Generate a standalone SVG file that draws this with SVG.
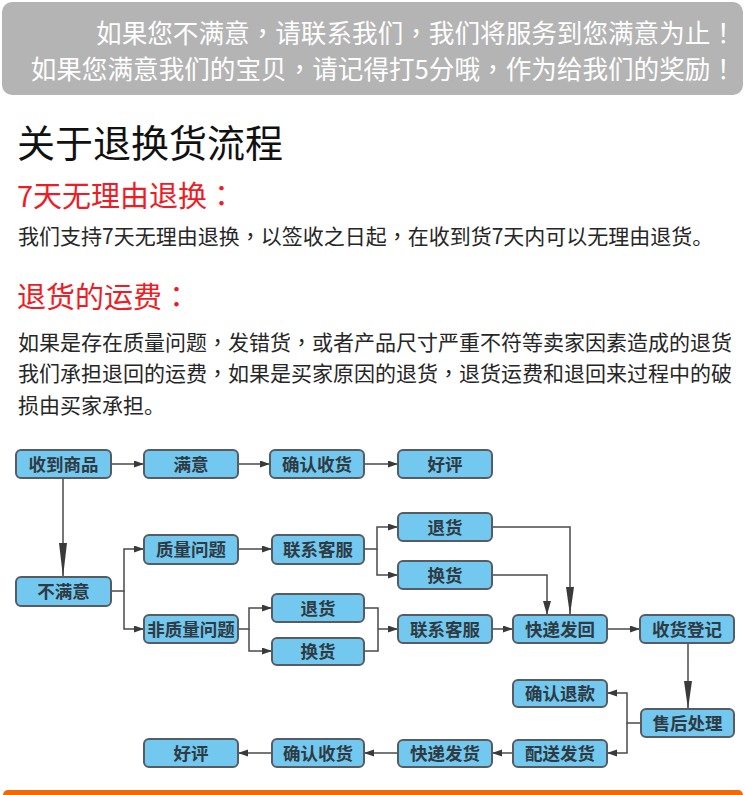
<svg xmlns="http://www.w3.org/2000/svg" width="746" height="795" viewBox="0 0 746 795">
<style>
.t{font-family:"Noto Sans CJK SC","Noto Sans",sans-serif;}
.p{font-family:"Noto Sans CJK TC","Noto Sans CJK SC",sans-serif;}
.ban{font-size:25.6px;fill:#ffffff;text-anchor:end;}
.title{font-size:38px;fill:#111111;}
.red{font-size:29px;fill:#ee1c25;}
.body{font-size:21px;fill:#262626;}
.box rect{fill:#72c8ef;stroke:#565c62;stroke-width:2;}
.box text{font-family:"Noto Sans CJK SC","Noto Sans",sans-serif;font-size:17.5px;font-weight:bold;fill:#2f3a42;text-anchor:middle;}
.con path{fill:none;stroke:#4a4a4a;stroke-width:1.5;}
</style>
<defs>
<marker id="a" markerUnits="userSpaceOnUse" markerWidth="10" markerHeight="8" refX="10" refY="3.5" orient="auto"><path d="M0,0 L10,3.5 L0,7 z" fill="#3a3a3a"/></marker>
<marker id="aL" markerUnits="userSpaceOnUse" markerWidth="34" markerHeight="9" refX="34" refY="4" orient="auto"><path d="M0,0 L34,4 L0,8 z" fill="#3a3a3a"/></marker>
<marker id="aM" markerUnits="userSpaceOnUse" markerWidth="28" markerHeight="9" refX="28" refY="4" orient="auto"><path d="M0,0 L28,4 L0,8 z" fill="#3a3a3a"/></marker>
<marker id="aS" markerUnits="userSpaceOnUse" markerWidth="14" markerHeight="9" refX="14" refY="4" orient="auto"><path d="M0,0 L14,4 L0,8 z" fill="#3a3a3a"/></marker>
</defs>
<rect x="0" y="0" width="746" height="795" fill="#ffffff"/>
<rect x="2" y="2" width="741" height="93" rx="10" fill="#b4b4b4"/>
<text class="t ban" x="736" y="43">如果您不满意<tspan class="p">，</tspan>请联系我们<tspan class="p">，</tspan>我们将服务到您满意为止<tspan class="p">！</tspan></text>
<text class="t ban" x="736" y="79">如果您满意我们的宝贝<tspan class="p">，</tspan>请记得打5分哦<tspan class="p">，</tspan>作为给我们的奖励<tspan class="p">！</tspan></text>
<text class="t title" x="17" y="157">关于退换货流程</text>
<text class="t red" x="17" y="207">7天无理由退换<tspan class="p">：</tspan></text>
<text class="t body" x="18" y="244">我们支持7天无理由退换<tspan class="p">，</tspan>以签收之日起<tspan class="p">，</tspan>在收到货7天内可以无理由退货。</text>
<text class="t red" x="17" y="308">退货的运费<tspan class="p">：</tspan></text>
<text class="t body" x="18" y="350">如果是存在质量问题<tspan class="p">，</tspan>发错货<tspan class="p">，</tspan>或者产品尺寸严重不符等卖家因素造成的退货</text>
<text class="t body" x="18" y="381">我们承担退回的运费<tspan class="p">，</tspan>如果是买家原因的退货<tspan class="p">，</tspan>退货运费和退回来过程中的破</text>
<text class="t body" x="18" y="413">损由买家承担。</text>
<g id="connectors" class="con">
<path d="M111,464 H144" marker-end="url(#a)"/>
<path d="M238,464 H270" marker-end="url(#a)"/>
<path d="M364,464 H398" marker-end="url(#a)"/>
<path d="M63,478 V577" marker-end="url(#aL)"/>
<path d="M111,591 H124 V549 H144" marker-end="url(#a)"/>
<path d="M124,591 V629 H144" marker-end="url(#a)"/>
<path d="M238,549 H272" marker-end="url(#a)"/>
<path d="M364,549 H377 V527 H398" marker-end="url(#a)"/>
<path d="M377,549 V575 H398" marker-end="url(#a)"/>
<path d="M492,527 H570 V615" marker-end="url(#aM)"/>
<path d="M492,575 H547 V615" marker-end="url(#aS)"/>
<path d="M238,629 H249 V608 H272" marker-end="url(#a)"/>
<path d="M249,629 V651 H272" marker-end="url(#a)"/>
<path d="M364,608 H378 V651 H364"/>
<path d="M378,629 H398" marker-end="url(#a)"/>
<path d="M492,629 H513" marker-end="url(#a)"/>
<path d="M607,629 H640" marker-end="url(#a)"/>
<path d="M688,643 V709" marker-end="url(#aM)"/>
<path d="M641,723 H627 V693 H607" marker-end="url(#a)"/>
<path d="M627,723 V753 H607" marker-end="url(#a)"/>
<path d="M513,753 H492" marker-end="url(#a)"/>
<path d="M398,753 H364" marker-end="url(#a)"/>
<path d="M272,753 H238" marker-end="url(#a)"/>
</g>
<g id="n1" class="box"><rect x="16" y="450" width="95" height="28" rx="5"/><text x="63.5" y="470.6">收到商品</text></g>
<g id="n2" class="box"><rect x="144" y="450" width="94" height="28" rx="5"/><text x="191" y="470.6">满意</text></g>
<g id="n3" class="box"><rect x="270" y="450" width="94" height="28" rx="5"/><text x="317" y="470.6">确认收货</text></g>
<g id="n4" class="box"><rect x="398" y="450" width="94" height="28" rx="5"/><text x="445" y="470.6">好评</text></g>
<g id="n5" class="box"><rect x="16" y="577" width="95" height="29" rx="5"/><text x="63.5" y="598.1">不满意</text></g>
<g id="n6" class="box"><rect x="144" y="535" width="94" height="29" rx="5"/><text x="191" y="556.1">质量问题</text></g>
<g id="n7" class="box"><rect x="272" y="535" width="92" height="29" rx="5"/><text x="318" y="556.1">联系客服</text></g>
<g id="n8" class="box"><rect x="398" y="513" width="94" height="28" rx="5"/><text x="445" y="533.6">退货</text></g>
<g id="n9" class="box"><rect x="398" y="561" width="94" height="28" rx="5"/><text x="445" y="581.6">换货</text></g>
<g id="n10" class="box"><rect x="144" y="615" width="94" height="28" rx="5"/><text x="191" y="635.6">非质量问题</text></g>
<g id="n11" class="box"><rect x="272" y="594" width="92" height="28" rx="5"/><text x="318" y="614.6">退货</text></g>
<g id="n12" class="box"><rect x="272" y="638" width="92" height="27" rx="5"/><text x="318" y="658.1">换货</text></g>
<g id="n13" class="box"><rect x="398" y="615" width="94" height="28" rx="5"/><text x="445" y="635.6">联系客服</text></g>
<g id="n14" class="box"><rect x="513" y="615" width="94" height="28" rx="5"/><text x="560" y="635.6">快递发回</text></g>
<g id="n15" class="box"><rect x="640" y="615" width="94" height="28" rx="5"/><text x="687" y="635.6">收货登记</text></g>
<g id="n16" class="box"><rect x="641" y="709" width="93" height="28" rx="5"/><text x="687.5" y="729.6">售后处理</text></g>
<g id="n17" class="box"><rect x="513" y="680" width="94" height="27" rx="5"/><text x="560" y="700.1">确认退款</text></g>
<g id="n18" class="box"><rect x="513" y="740" width="94" height="27" rx="5"/><text x="560" y="760.1">配送发货</text></g>
<g id="n19" class="box"><rect x="398" y="740" width="94" height="27" rx="5"/><text x="445" y="760.1">快递发货</text></g>
<g id="n20" class="box"><rect x="272" y="739" width="92" height="28" rx="5"/><text x="318" y="759.6">确认收货</text></g>
<g id="n21" class="box"><rect x="144" y="739" width="94" height="28" rx="5"/><text x="191" y="759.6">好评</text></g>
<rect x="3" y="790" width="740" height="12" rx="5" fill="#ee6a0c"/>
</svg>
